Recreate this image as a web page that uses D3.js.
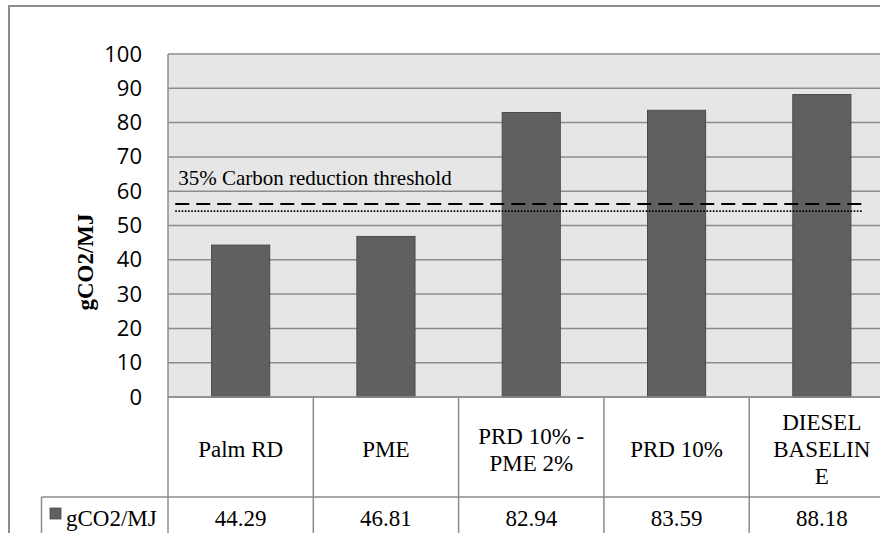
<!DOCTYPE html>
<html>
<head>
<meta charset="utf-8">
<script src="https://cdn.jsdelivr.net/npm/d3@7"></script>
<style>
  body { margin: 0; background: #fff; }
  svg { display: block; }
  .serif { font-family: "Times New Roman", "Liberation Serif", Tinos, "DejaVu Serif", serif; }
</style>
</head>
<body>
<div id="chart"></div>
<script>
// data
var categories = ["Palm RD", "PME", "PRD 10% - PME 2%", "PRD 10%", "DIESEL BASELINE"];
var categoryLines = [["Palm RD"], ["PME"], ["PRD 10% -", "PME 2%"], ["PRD 10%"], ["DIESEL", "BASELIN", "E"]];
var values = [44.29, 46.81, 82.94, 83.59, 88.18];
var valueLabels = ["44.29", "46.81", "82.94", "83.59", "88.18"];
var seriesName = "gCO2/MJ";
var yTicks = [0, 10, 20, 30, 40, 50, 60, 70, 80, 90, 100];
var thresholdLabel = "35% Carbon reduction threshold";
var dashedValue = 56.3;
var dottedValue = 54.2;

var svgWidth = 880;
var svgHeight = 533;

var plot = { left: 168, top: 54, right: 894.5, bottom: 397 };
var rowSplit = 497;
var tableBottom = 560;
var legendLeft = 41.5;

var gridColor = "#8c8c8c";
var barColor = "#606060";

var svg = d3.select("#chart")
    .append("svg")
    .attr("width", svgWidth)
    .attr("height", svgHeight);

// outer chart frame (cut off at right and bottom)
svg.append("rect")
    .attr("x", 9)
    .attr("y", 6)
    .attr("width", 1000)
    .attr("height", 1000)
    .attr("fill", "#fff")
    .attr("stroke", gridColor)
    .attr("stroke-width", 2);

var xScale = d3.scaleBand()
    .domain(categories)
    .range([plot.left, plot.right])
    .paddingInner(0.6)
    .paddingOuter(0.3);

// index scale for the threshold lines
var xIndex = d3.scaleLinear()
    .domain([-0.5, categories.length - 0.5])
    .range([plot.left, plot.right]);

var yScale = d3.scaleLinear()
    .domain([0, 100])
    .range([plot.bottom, plot.top]);

// plot background
svg.append("rect")
    .attr("x", plot.left)
    .attr("y", plot.top)
    .attr("width", plot.right - plot.left)
    .attr("height", plot.bottom - plot.top)
    .attr("fill", "#e6e6e6");

// gridlines
svg.append("g")
    .selectAll("line")
    .data(yTicks)
    .enter()
    .append("line")
    .attr("x1", plot.left)
    .attr("x2", plot.right)
    .attr("y1", d => yScale(d))
    .attr("y2", d => yScale(d))
    .attr("stroke", gridColor)
    .attr("stroke-width", 1.5);

// y axis labels
var yAxis = d3.axisLeft(yScale)
    .tickValues(yTicks)
    .tickSize(0)
    .tickPadding(26);

var yAxisG = svg.append("g")
    .attr("transform", `translate(${plot.left}, 0)`)
    .call(yAxis);

yAxisG.select(".domain").remove();
yAxisG.selectAll("text")
    .attr("font-family", "'Open Sans', sans-serif")
    .attr("font-size", "22px")
    .attr("fill", "#000");

// y axis title
svg.append("text")
    .attr("class", "serif")
    .attr("transform", "translate(93, 262) rotate(-90)")
    .attr("text-anchor", "middle")
    .attr("font-weight", "bold")
    .attr("font-size", "23px")
    .attr("fill", "#000")
    .text(seriesName);

// bars
svg.append("g")
    .selectAll("rect")
    .data(values)
    .enter()
    .append("rect")
    .attr("x", (d, i) => xScale(categories[i]))
    .attr("y", d => yScale(d))
    .attr("width", xScale.bandwidth())
    .attr("height", d => yScale(0) - yScale(d))
    .attr("fill", barColor)
    .attr("stroke", "#4a4a4a")
    .attr("stroke-width", 1);

// threshold lines
svg.append("line")
    .attr("x1", xIndex(-0.45))
    .attr("x2", xIndex(4.3))
    .attr("y1", yScale(dashedValue))
    .attr("y2", yScale(dashedValue))
    .attr("stroke", "#000")
    .attr("stroke-width", 2)
    .attr("stroke-dasharray", "14,7");

svg.append("line")
    .attr("x1", xIndex(-0.45))
    .attr("x2", xIndex(4.28))
    .attr("y1", yScale(dottedValue))
    .attr("y2", yScale(dottedValue))
    .attr("stroke", "#000")
    .attr("stroke-width", 1.6)
    .attr("stroke-dasharray", "1.6,1.6");

svg.append("text")
    .attr("class", "serif")
    .attr("x", xIndex(-0.43))
    .attr("y", yScale(61.8))
    .attr("font-size", "21px")
    .attr("fill", "#000")
    .text(thresholdLabel);

// data table
var table = svg.append("g");
var step = xScale.step();
var colEdges = d3.range(categories.length + 1).map(i => plot.left + i * step);

table.selectAll(".vline")
    .data(colEdges)
    .enter()
    .append("line")
    .attr("x1", d => d)
    .attr("x2", d => d)
    .attr("y1", (d, i) => i === 0 ? plot.top : plot.bottom)
    .attr("y2", tableBottom)
    .attr("stroke", gridColor)
    .attr("stroke-width", 1.5);

table.append("line")
    .attr("x1", legendLeft)
    .attr("x2", plot.right)
    .attr("y1", rowSplit)
    .attr("y2", rowSplit)
    .attr("stroke", gridColor)
    .attr("stroke-width", 1.5);

table.append("line")
    .attr("x1", legendLeft)
    .attr("x2", legendLeft)
    .attr("y1", rowSplit)
    .attr("y2", tableBottom)
    .attr("stroke", gridColor)
    .attr("stroke-width", 1.5);

// plot bottom line over the bars
svg.append("line")
    .attr("x1", plot.left)
    .attr("x2", plot.right)
    .attr("y1", yScale(0))
    .attr("y2", yScale(0))
    .attr("stroke", gridColor)
    .attr("stroke-width", 1.5);

// category labels
var lineHeight = 27;
var catLabels = table.selectAll(".cat")
    .data(categoryLines)
    .enter()
    .append("text")
    .attr("class", "cat serif")
    .attr("text-anchor", "middle")
    .attr("font-size", "23px")
    .attr("fill", "#000");

catLabels.each(function (lines, i) {
    var cx = xScale(categories[i]) + xScale.bandwidth() / 2;
    var y0 = 457 - (lines.length - 1) * lineHeight / 2;
    d3.select(this).selectAll("tspan")
        .data(lines)
        .enter()
        .append("tspan")
        .attr("x", cx)
        .attr("y", (d, j) => y0 + j * lineHeight)
        .text(d => d);
});

// value labels
table.selectAll(".val")
    .data(valueLabels)
    .enter()
    .append("text")
    .attr("class", "val serif")
    .attr("x", (d, i) => xScale(categories[i]) + xScale.bandwidth() / 2)
    .attr("y", 526)
    .attr("text-anchor", "middle")
    .attr("font-size", "23px")
    .attr("fill", "#000")
    .text(d => d);

// legend key
table.append("rect")
    .attr("x", 50)
    .attr("y", 508)
    .attr("width", 11)
    .attr("height", 11)
    .attr("fill", barColor)
    .attr("stroke", "#4a4a4a")
    .attr("stroke-width", 0.8);

table.append("text")
    .attr("class", "serif")
    .attr("x", 66)
    .attr("y", 526)
    .attr("font-size", "23px")
    .attr("fill", "#000")
    .text(seriesName);
</script>
</body>
</html>
